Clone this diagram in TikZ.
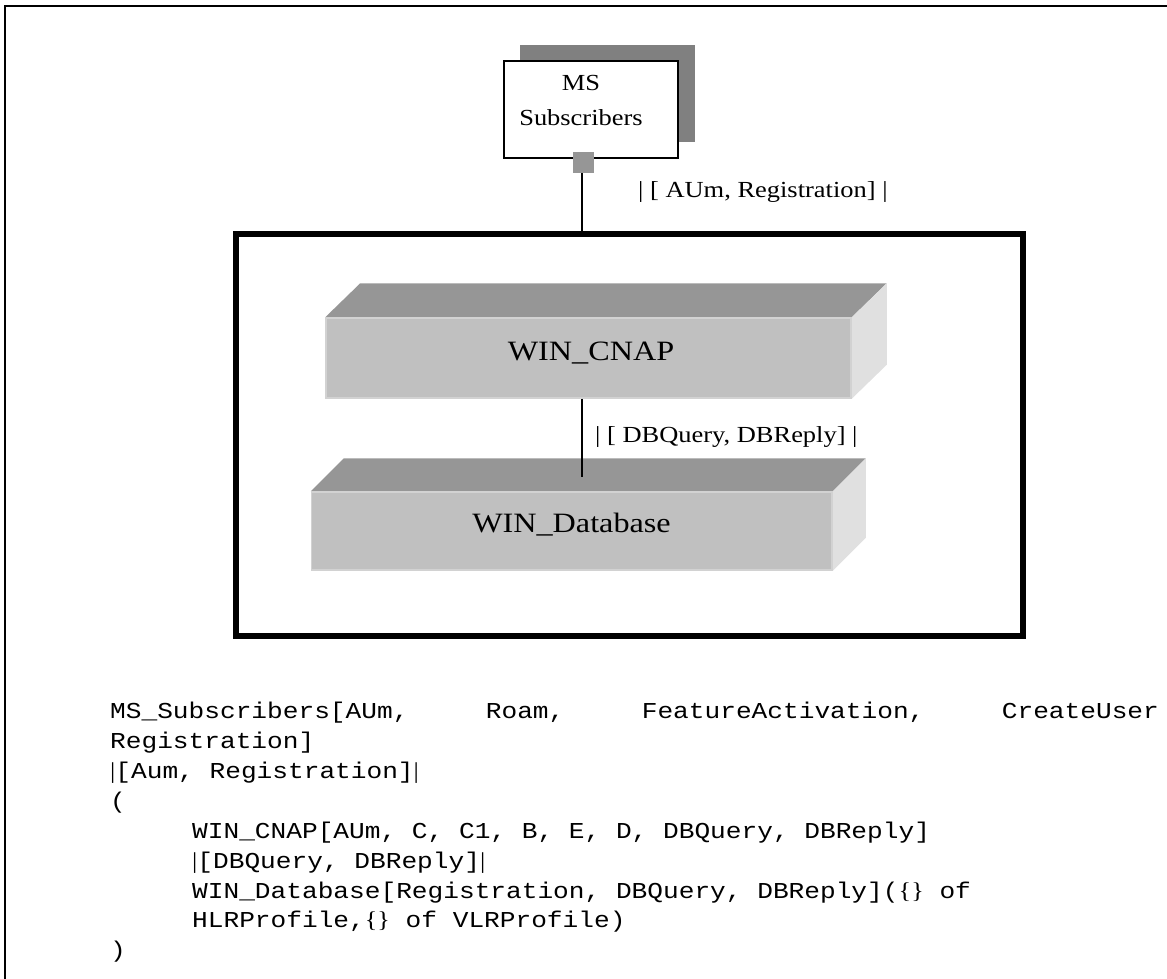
\documentclass[tikz,border=0pt]{standalone}
\usepackage{fontspec}
\setmainfont{Liberation Serif}
\setmonofont{Liberation Mono}
\usetikzlibrary{calc}

\definecolor{topgray}{HTML}{969696}
\definecolor{frontgray}{HTML}{C0C0C0}
\definecolor{sidegray}{HTML}{E0E0E0}
\definecolor{edgegray}{HTML}{D2D2D2}
\definecolor{shadowgray}{HTML}{808080}

\tikzset{
  frontface/.style={rectangle, fill=frontgray, draw=edgegray, line width=1.5pt,
    inner sep=0pt},
  slabtext/.style={inner sep=0pt, font=\fontsize{28}{32}\selectfont},
  topface/.style={fill=topgray},
  sideface/.style={fill=sidegray},
  msbox/.style={rectangle, draw=black, fill=white, line width=1.5pt, inner sep=0pt,
    minimum width=174pt, minimum height=97pt},
  mstext/.style={inner sep=0pt, align=center, font=\fontsize{23}{35}\selectfont},
  port/.style={rectangle, fill=topgray, inner sep=0pt, minimum size=21pt},
  sysbox/.style={rectangle, draw=black, line width=6pt, inner sep=0pt},
  link/.style={draw=black, line width=1.2pt},
  gatelabel/.style={anchor=west, inner sep=0pt, font=\fontsize{23}{26}\selectfont},
  code/.style={anchor=base west, inner sep=0pt, font=\fontsize{22.75}{27}\ttfamily},
}

% all lettering is set slightly wide
\newcommand{\wide}[1]{\scalebox{1.15}[1]{#1}}
\newcommand{\vbar}{{\rmfamily|}}

% a slab: top and right faces behind a front face node
\newcommand{\slabfaces}[3]{% node name, depth x, depth y
  \fill[topface] (#1.north west) -- ++(#2,-#3) -- ($(#1.north east)+(#2,-#3)$) -- (#1.north east) -- cycle;
  \fill[sideface] (#1.north east) -- ++(#2,-#3) -- ($(#1.south east)+(#2,-#3)$) -- (#1.south east) -- cycle;
}

\begin{document}
\begin{tikzpicture}[x=1pt,y=-1pt]
\useasboundingbox (0,0) rectangle (1167,979);

% page frame (top and left edges)
\draw[line width=2pt] (1170,6) -- (5,6) -- (5,982);

% MS Subscribers box with drop shadow
\fill[shadowgray] (520,45) rectangle (695,142);
\node[msbox] (ms) at (591,109.5) {};
\node[mstext] (mslabel) at (581,100) {\wide{MS}\\\wide{Subscribers}};
\node[port] (msport) at (583.5,162.5) {};

% system boundary
\node[sysbox, minimum width=787pt, minimum height=402.5pt] (sys) at (629.5,434.75) {};

% WIN_CNAP slab
\node[frontface, minimum width=525pt, minimum height=80pt] (cnap) at (588.5,358) {};
\slabfaces{cnap}{35}{34}
\node[frontface, minimum width=525pt, minimum height=80pt] (cnapf) at (588.5,358) {};
\node[slabtext] (cnaplabel) at (591,353) {\wide{WIN\_CNAP}};

% WIN_Database slab
\node[frontface, minimum width=520.5pt, minimum height=78pt] (db) at (571.75,531) {};
\slabfaces{db}{33}{33}
\node[frontface, minimum width=520.5pt, minimum height=78pt] (dbf) at (571.75,531) {};
\node[slabtext] (dblabel) at (571.5,525) {\wide{WIN\_Database}};

% connectors
\coordinate (dbtop) at (582,477);
\draw[link] (msport.south -| dbtop) -- (dbtop |- sys.north);
\node[gatelabel] (g1) at (638,192) {\wide{| [ AUm, Registration] |}};

\draw[link] (cnapf.south -| dbtop) -- (dbtop);
\node[gatelabel] (g2) at (595,437) {\wide{| [ DBQuery, DBReply] |}};

% process expression
\node[code] (c1) at (110,718) {\wide{\makebox[912pt][l]{MS\_Subscribers[AUm,\hfill Roam,\hfill FeatureActivation,\hfill CreateUser}}};
\node[code] (c2) at (110,748) {\wide{Registration]}};
\node[code] (c3) at (110,778) {\wide{\vbar[Aum, Registration]\vbar}};
\node[code] (c4) at (110,808) {\wide{(}};
\node[code] (c5) at (192,838) {\wide{WIN\_CNAP[AUm, C, C1, B, E, D, DBQuery, DBReply]}};
\node[code] (c6) at (192,868) {\wide{\vbar[DBQuery, DBReply]\vbar}};
\node[code] (c7) at (192,898) {\wide{WIN\_Database[Registration, DBQuery, DBReply]({\rmfamily\{\}} of}};
\node[code] (c8) at (192,927) {\wide{HLRProfile,{\rmfamily\{\}} of VLRProfile)}};
\node[code] (c9) at (110,957) {\wide{)}};
\end{tikzpicture}
\end{document}
